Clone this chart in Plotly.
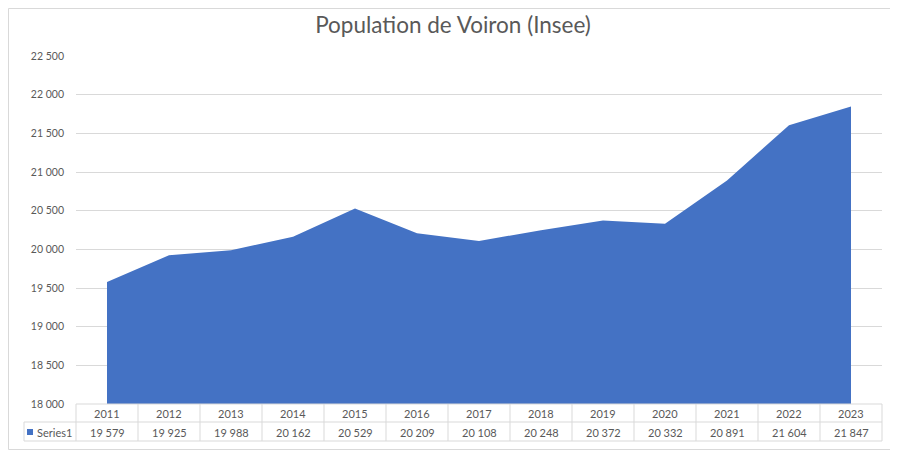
import plotly.graph_objects as go

years = ["2011", "2012", "2013", "2014", "2015", "2016", "2017",
         "2018", "2019", "2020", "2021", "2022", "2023"]
population = [19579, 19925, 19988, 20162, 20529, 20209, 20108,
              20248, 20372, 20332, 20891, 21604, 21847]
series_name = "Series1"
title_text = "Population de Voiron (Insee)"

# the page puts the figure 8px in from the top-left corner
OFF = 8
W, H = 890, 442
L, R, T, B = 76 - OFF, 16, 56 - OFF, 46
PW, PH = W - L - R, H - T - B
blue = "#4472C4"
grey = "#d9d9d9"
txt = "#595959"
font = "Lato"


def px_x(px):
    # px measured on the page
    return (px - OFF - L) / PW


def px_y(py):
    return (H - B - (py - OFF)) / PH


fig = go.Figure()
fig.add_trace(go.Scatter(x=years, y=population, fill="tozeroy", mode="lines",
                         line=dict(width=0, color=blue), fillcolor=blue,
                         name=series_name, hoverinfo="x+y"))

n = len(years)
shapes = []
line = dict(color=grey, width=1)
# data table lines
shapes.append(dict(type="line", xref="paper", yref="paper",
                   x0=0, x1=1, y0=px_y(404), y1=px_y(404), line=line))
for py in (422, 441):
    shapes.append(dict(type="line", xref="paper", yref="paper",
                       x0=px_x(24), x1=1, y0=px_y(py), y1=px_y(py), line=line))
for i in range(n + 1):
    shapes.append(dict(type="line", xref="paper", yref="paper",
                       x0=i / n, x1=i / n, y0=px_y(404), y1=px_y(441), line=line))
shapes.append(dict(type="line", xref="paper", yref="paper",
                   x0=px_x(24), x1=px_x(24), y0=px_y(422), y1=px_y(441), line=line))
# legend key
shapes.append(dict(type="rect", xref="paper", yref="paper",
                   x0=px_x(27), x1=px_x(33), y0=px_y(435), y1=px_y(429),
                   fillcolor=blue, line=dict(width=0)))
# chart border
shapes.append(dict(type="rect", xref="paper", yref="paper",
                   x0=px_x(OFF + 0.5), x1=px_x(897.5), y0=px_y(OFF + 0.5), y1=px_y(449.5),
                   line=dict(color=grey, width=1)))

cell_font = dict(size=11, color=txt, family=font)
annotations = []
for i, (yr, v) in enumerate(zip(years, population)):
    xc = (i + 0.5) / n
    annotations.append(dict(x=xc, xref="paper", y=px_y(413), yref="paper",
                            text=yr, showarrow=False,
                            xanchor="center", yanchor="middle", font=cell_font))
    annotations.append(dict(x=xc, xref="paper", y=px_y(432), yref="paper",
                            text=f"{v:,}".replace(",", " "), showarrow=False,
                            xanchor="center", yanchor="middle", font=cell_font))
annotations.append(dict(x=px_x(35), xref="paper", y=px_y(432), yref="paper",
                        text=series_name, showarrow=False,
                        xanchor="left", yanchor="middle", font=cell_font))

fig.update_layout(
    width=W, height=H,
    margin=dict(l=L, r=R, t=T, b=B),
    paper_bgcolor="white", plot_bgcolor="white",
    separators=", ",
    showlegend=False,
    title=dict(text=title_text, x=0.5, xanchor="center",
               y=1 - (25 - OFF) / H, yanchor="middle",
               font=dict(size=22.5, color=txt, family=font)),
    font=dict(family=font, color=txt),
    shapes=shapes,
    annotations=annotations,
)
fig.update_xaxes(type="category", range=[-0.5, n - 0.5], showticklabels=False,
                 showgrid=False, zeroline=False, showline=False)
fig.update_yaxes(range=[18000, 22500], dtick=500, tickformat=",d",
                 showgrid=True, gridcolor=grey, gridwidth=1, zeroline=False,
                 showline=False, ticklabelstandoff=11,
                 tickfont=dict(size=10.5, color=txt, family=font))

fig.write_html("out.html")
